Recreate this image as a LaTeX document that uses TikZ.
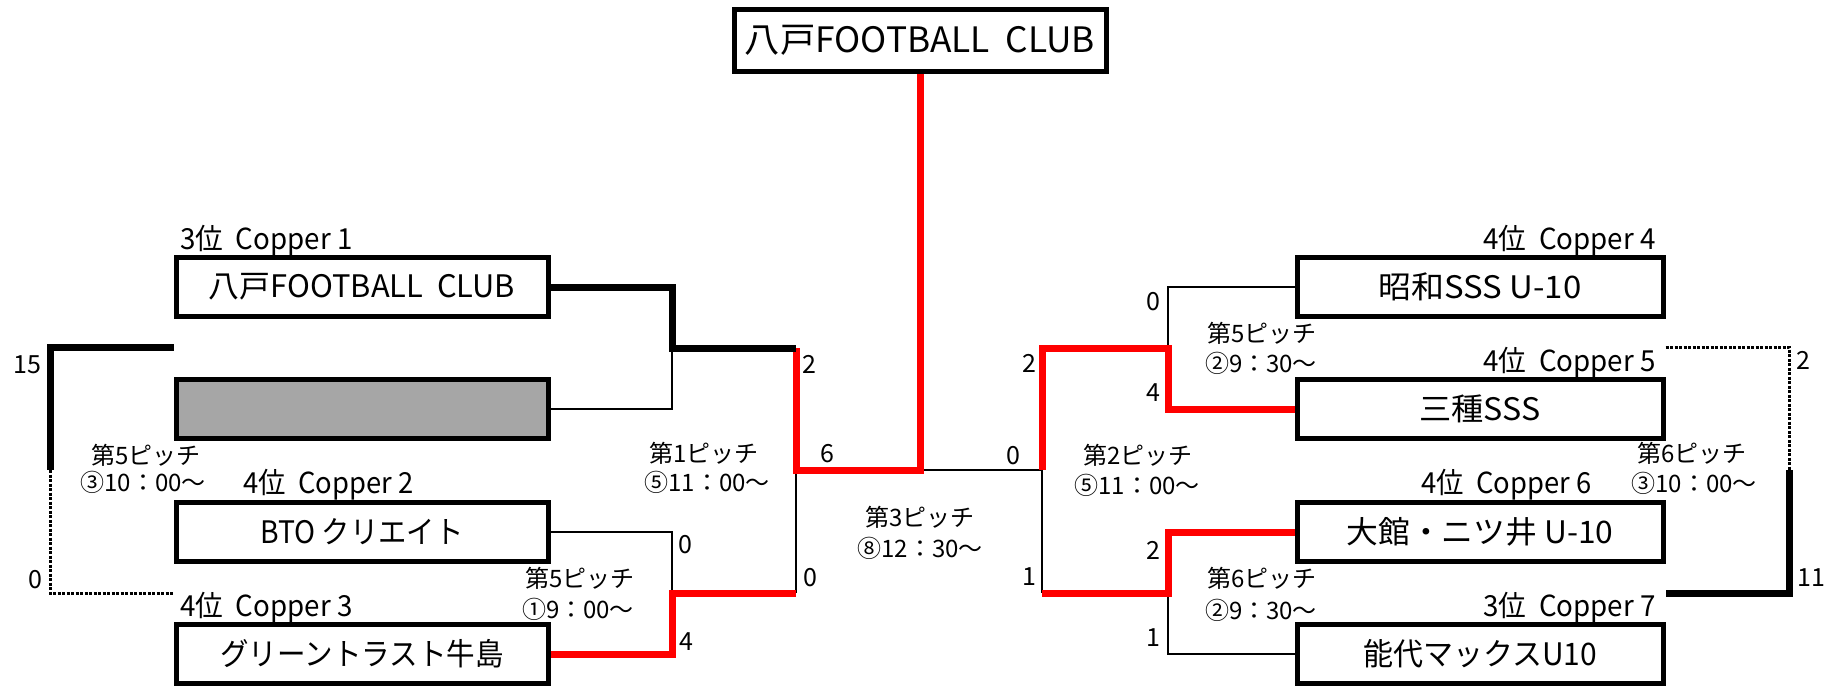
\documentclass[tikz,border=0pt]{standalone}
\usepackage{fontspec}
\setmainfont{Noto Sans CJK JP}
\usepackage{graphicx}
\definecolor{boxgray}{HTML}{A6A6A6}
\newcommand\fw[2]{\resizebox{#1pt}{\height}{#2}}
\tikzset{
  box/.style={draw, line width=2.5pt, minimum width=186pt, minimum height=29.5pt, inner sep=0pt, fill=white, font=\fontsize{15.5}{17}\selectfont},
  rbox/.style={box, minimum width=183pt},
  topbox/.style={box, minimum height=31pt, font=\fontsize{17.5}{19}\selectfont},
  thinln/.style={line width=1.25pt},
  heavy/.style={line width=3.5pt},
  win/.style={line width=3.5pt, red},
  dots/.style={line width=1.5pt, dash pattern=on 1.5pt off 0.75pt},
  lbl/.style={font=\fontsize{14.5}{16}\selectfont, inner sep=0pt},
  pitch/.style={font=\fontsize{12}{14}\selectfont, inner sep=0pt, anchor=base},
  score/.style={font=\fontsize{12.5}{14}\selectfont, inner sep=0pt}
}
\begin{document}
\begin{tikzpicture}[x=0.5pt,y=-0.5pt]
\useasboundingbox (0,0) rectangle (1835,686);

% boxes
\node[topbox] (T) at (920,40) {\fw{175}{八戸FOOTBALL\ \ CLUB}};
\node[box] (L1) at (362,287) {\fw{153}{八戸FOOTBALL\ \ CLUB}};
\node[box, fill=boxgray] (L2) at (362,409) {};
\node[box] (L3) at (362,532) {\fw{101.5}{BTO クリエイト}};
\node[box] (L4) at (362,654) {\fw{141.5}{グリーントラスト牛島}};
\node[rbox] (R1) at (1480,287) {\fw{101.5}{昭和SSS U-10}};
\node[rbox] (R2) at (1480,409) {\fw{60.5}{三種SSS}};
\node[rbox] (R3) at (1480,532) {\fw{133.5}{大館・ニツ井 U-10}};
\node[rbox] (R4) at (1480,654) {\fw{117}{能代マックスU10}};

% junctions
\coordinate (jA) at (672,348);
\coordinate (jB) at (672,593);
\coordinate (sLt) at (796,348);
\coordinate (sL) at (796,470);
\coordinate (sLb) at (796,593);
\coordinate (fC) at (920,470);
\coordinate (fR) at (1042,470);
\coordinate (sRt) at (1042,348);
\coordinate (sRb) at (1042,593);
\coordinate (jC) at (1168,348);
\coordinate (jD) at (1168,593);
\coordinate (bl1) at (50,347);
\coordinate (bl2) at (50,470);
\coordinate (bl3) at (50,593);
\coordinate (br1) at (1789,347);
\coordinate (br2) at (1789,470);
\coordinate (br3) at (1789,593);

% connectors
\draw[thinln] (L2.east) -| (jA);
\draw[thinln] (L3.east) -| (jB);
\draw[thinln] (sL) -- (sLb);
\draw[thinln] (fC) -- (fR);
\draw[thinln] (fR) -- (sRb);
\draw[thinln] (jC) |- (R1.west);
\draw[thinln] (jD) |- (R4.west);
\draw[win] (L4.east) -| (jB) -- (sLb);
\draw[win] (sLt) |- (fC) -- (T.south);
\draw[win] (fR) -- (sRt) -- (jC) |- (R2.west);
\draw[win] (sRb) -- (jD) |- (R3.west);
\draw[heavy] (L1.east) -| (jA) -- (sLt);

% side brackets
\draw[heavy] (L2.west |- bl1) -- (bl1) -- (bl2);
\draw[dots] (bl2) -- (bl3) -- (L3.west |- bl3);
\draw[dots] (R2.east |- br1) -- (br1) -- (br2);
\draw[heavy] (br2) -- (br3) -- (R3.east |- br3);

% rank labels
\node[lbl, anchor=base west] (c1) at (180,249) {\fw{86}{3位\ \ Copper 1}};
\node[lbl, anchor=base west] (c2) at (243,493) {\fw{85}{4位\ \ Copper 2}};
\node[lbl, anchor=base west] (c3) at (180,616) {\fw{86}{4位\ \ Copper 3}};
\node[lbl, anchor=base east] (c4) at (1656,249) {\fw{86}{4位\ \ Copper 4}};
\node[lbl, anchor=base east] (c5) at (1656,371) {\fw{86}{4位\ \ Copper 5}};
\node[lbl, anchor=base east] (c6) at (1592,493) {\fw{85}{4位\ \ Copper 6}};
\node[lbl, anchor=base east] (c7) at (1656,616) {\fw{86}{3位\ \ Copper 7}};

% pitch labels
\node[pitch] (p1a) at (146,464) {第5ピッチ};
\node[pitch] (p1b) at (143,491) {③10：00～};
\node[pitch] (p2a) at (580,587) {第5ピッチ};
\node[pitch] (p2b) at (578,618) {①9：00～};
\node[pitch] (p3a) at (704,462) {第1ピッチ};
\node[pitch] (p3b) at (707,491) {⑤11：00～};
\node[pitch] (p4a) at (920,526) {第3ピッチ};
\node[pitch] (p4b) at (920,557) {⑧12：30～};
\node[pitch] (p5a) at (1138,464) {第2ピッチ};
\node[pitch] (p5b) at (1137,494) {⑤11：00～};
\node[pitch] (p6a) at (1262,342) {第5ピッチ};
\node[pitch] (p6b) at (1261,372) {②9：30～};
\node[pitch] (p7a) at (1262,587) {第6ピッチ};
\node[pitch] (p7b) at (1261,619) {②9：30～};
\node[pitch] (p8a) at (1692,462) {第6ピッチ};
\node[pitch] (p8b) at (1694,492) {③10：00～};

% scores
\node[score, anchor=east] (s1) at (42,365) {15};
\node[score] (s2) at (35,580) {0};
\node[score] (s3) at (685,545) {0};
\node[score] (s4) at (686,642) {4};
\node[score] (s5) at (809,364) {2};
\node[score] (s6) at (827,454) {6};
\node[score] (s7) at (810,578) {0};
\node[score] (s8) at (1013,456) {0};
\node[score] (s9) at (1029,363) {2};
\node[score] (s10) at (1029,577) {1};
\node[score] (s11) at (1153,302) {0};
\node[score] (s12) at (1153,393) {4};
\node[score] (s13) at (1153,550) {2};
\node[score] (s14) at (1153,638) {1};
\node[score] (s15) at (1803,360) {2};
\node[score] (s16) at (1811,578) {11};
\end{tikzpicture}
\end{document}
